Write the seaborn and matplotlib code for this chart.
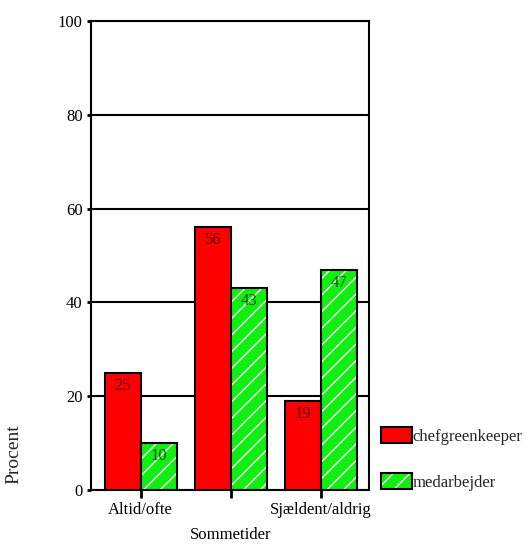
import matplotlib
matplotlib.use("Agg")
import matplotlib.pyplot as plt
import matplotlib.patches as mpatches
import pandas as pd
import seaborn as sns

categories = ["Altid/ofte", "Sommetider", "Sjældent/aldrig"]
chef_values = [25, 56, 19]
staff_values = [10, 43, 47]
series_names = ["chefgreenkeeper", "medarbejder"]
y_ticks = [0, 20, 40, 60, 80, 100]

df = pd.DataFrame({
    "kategori": categories * 2,
    "procent": chef_values + staff_values,
    "gruppe": [series_names[0]] * 3 + [series_names[1]] * 3,
})

sns.set_style("white")
plt.rcParams["font.family"] = ["Liberation Serif", "DejaVu Serif"]

RED = "#ff0000"
GREEN = "#11ee11"

fig = plt.figure(figsize=(5.30, 5.45), dpi=100)
ax = fig.add_axes([91 / 530, 55 / 545, 278 / 530, 469 / 545])

sns.barplot(data=df, x="kategori", y="procent", hue="gruppe", order=categories,
            hue_order=series_names, palette={series_names[0]: RED, series_names[1]: GREEN},
            width=0.8, saturation=1, edgecolor="black", linewidth=1.5, ax=ax, legend=False,
            zorder=3)

# green bars: white diagonal hatch, black outline drawn on top
for patch in ax.containers[1]:
    patch.set_hatch("//")
    patch.set_edgecolor("white")
    patch.set_linewidth(0)
    x, y = patch.get_xy()
    ax.add_patch(mpatches.Rectangle((x, y), patch.get_width(), patch.get_height(),
                                    fill=False, edgecolor="black", linewidth=1.5, zorder=4))

# value labels just under the bar tops
for container, vals in zip(ax.containers, [chef_values, staff_values]):
    for patch, v in zip(container, vals):
        ax.annotate(f"{v}", (patch.get_x() + patch.get_width() / 2, patch.get_height()),
                    xytext=(0, -13), textcoords="offset pixels", ha="center", va="center",
                    fontsize=12, color="black", alpha=0.65, zorder=5)

ax.set_ylim(0, 100)
ax.set_xlim(-0.55, 2.53)
ax.set_yticks(y_ticks)
ax.yaxis.grid(True, color="black", linewidth=1.5, zorder=1)
ax.xaxis.grid(False)
for s in ax.spines.values():
    s.set_color("black")
    s.set_linewidth(1.5)
    s.set_visible(True)

ax.tick_params(axis="y", direction="out", length=3, width=2, labelsize=12, pad=3,
               colors="black", left=True)
ax.tick_params(axis="x", direction="out", length=6, width=2, labelsize=12, pad=3,
               colors="black", bottom=True)
ax.set_xticks(range(len(categories)))
ax.set_xticklabels([categories[0], "\n" + categories[1], categories[2]])
ax.get_xticklabels()[1].set_linespacing(1.7)

ax.set_xlabel("")
ax.set_ylabel("Procent", fontsize=14)
ax.yaxis.set_label_coords(-0.245, 0.077)

red_key = mpatches.Patch(facecolor=RED, edgecolor="black", linewidth=1.5)
green_key = (mpatches.Patch(facecolor=GREEN, edgecolor="white", hatch="//", linewidth=0),
             mpatches.Patch(fill=False, edgecolor="black", linewidth=1.5))
fig.legend([red_key, green_key], series_names, loc="lower left",
           bbox_to_anchor=(381 / 530, 54 / 545), frameon=False, fontsize=12,
           handlelength=1.85, handleheight=1.1, handletextpad=0.05,
           labelspacing=1.7, borderpad=0, borderaxespad=0)

fig.savefig("out.png", dpi=100)
